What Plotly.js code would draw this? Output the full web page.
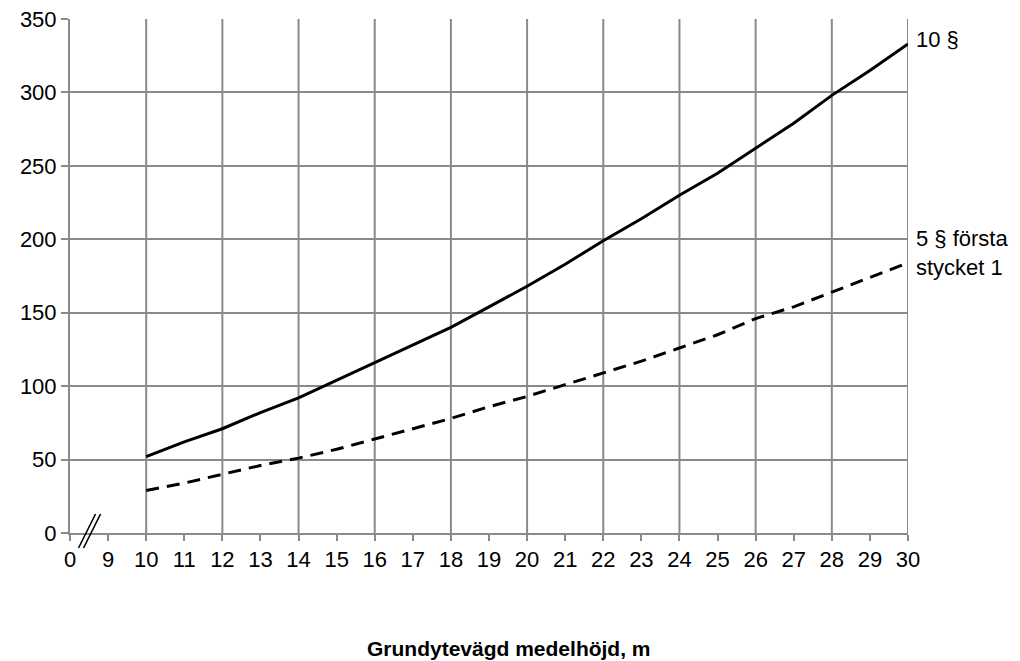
<!DOCTYPE html>
<html>
<head>
<meta charset="utf-8">
<script src="https://cdn.plot.ly/plotly-3.0.1.min.js"></script>
<style>html,body{margin:0;padding:0;background:#fff;}#chart{width:1020px;height:661px;}</style>
</head>
<body>
<div id="chart"></div>
<script>
// Height classes (m)
const heights = [10,11,12,13,14,15,16,17,18,19,20,21,22,23,24,25,26,27,28,29,30];
// Series "10 §"
const s10 = [52,62,71,82,92,104,116,128,140,154,168,183,199,214,230,245,262,279,298,315,333];
// Series "5 § första stycket 1"
const s5 = [29,34,40,46,51,57,64,71,78,86,93,101,109,117,126,135,146,154,164,174,184];
// Axis ticks (the first position stands for 0 after the axis break)
const xTickVals = [8,9,10,11,12,13,14,15,16,17,18,19,20,21,22,23,24,25,26,27,28,29,30];
const xTickText = ['0','9','10','11','12','13','14','15','16','17','18','19','20','21','22','23','24','25','26','27','28','29','30'];
const xGridVals = [10,12,14,16,18,20,22,24,26,28,30];
const yTickVals = [0,50,100,150,200,250,300,350];
const seriesNames = ['10 §', '5 § första<br>stycket 1'];

const gridColor = '#8a8a8a';
const font = {family: 'Liberation Sans, Arial, sans-serif', size: 22, color: '#000'};

const traces = [
  {x: heights, y: s10, type: 'scatter', mode: 'lines', name: '10 §',
   line: {color: '#000', width: 3}},
  {x: heights, y: s5, type: 'scatter', mode: 'lines', name: '5 § första stycket 1',
   line: {color: '#000', width: 3, dash: '13px,8px'}}
];

const shapes = xGridVals.map(v => ({
  type: 'line', xref: 'x', yref: 'paper', x0: v, x1: v, y0: 0, y1: 1,
  line: {color: gridColor, width: 2}, layer: 'below'
}));
// axis break marker
[-2.5, 2.5].forEach(off => {
  shapes.push({
    type: 'line', xref: 'x', yref: 'paper', xsizemode: 'pixel', ysizemode: 'pixel',
    xanchor: 8.5, yanchor: 0, x0: off - 8, x1: off + 9, y0: -15, y1: 19,
    line: {color: '#000', width: 1.6}, layer: 'above'
  });
});

const layout = {
  width: 1020, height: 661,
  margin: {l: 70, r: 112, t: 19, b: 128},
  paper_bgcolor: '#fff', plot_bgcolor: '#fff',
  showlegend: false,
  font: font,
  xaxis: {
    type: 'linear', range: [8, 30],
    tickmode: 'array', tickvals: xTickVals, ticktext: xTickText,
    showgrid: false, zeroline: false,
    showline: true, linecolor: gridColor, linewidth: 2,
    ticks: 'outside', ticklen: 6, tickwidth: 2, tickcolor: gridColor,
    tickfont: font
  },
  yaxis: {
    range: [0, 350], tickmode: 'array', tickvals: yTickVals,
    showgrid: true, gridcolor: gridColor, gridwidth: 2,
    zeroline: false, showline: true, linecolor: gridColor, linewidth: 2,
    ticks: 'outside', ticklen: 7, tickwidth: 2, tickcolor: gridColor,
    tickfont: font
  },
  shapes: shapes,
  annotations: [
    {x: 30, y: s10[s10.length - 1], xref: 'x', yref: 'y', text: seriesNames[0],
     showarrow: false, xanchor: 'left', yanchor: 'middle', xshift: 6, yshift: 4,
     font: font, align: 'left'},
    {x: 30, y: s5[s5.length - 1], xref: 'x', yref: 'y', text: seriesNames[1],
     showarrow: false, xanchor: 'left', yanchor: 'middle', xshift: 6, yshift: 10,
     font: font, align: 'left'},
    {x: 0.524, y: -0.224, xref: 'paper', yref: 'paper',
     text: '<b>Grundytevägd medelhöjd, m</b>', showarrow: false,
     xanchor: 'center', yanchor: 'middle',
     font: {family: 'Liberation Sans, Arial, sans-serif', size: 21, color: '#000'}}
  ]
};

Plotly.newPlot('chart', traces, layout, {displayModeBar: false, staticPlot: true});
</script>
</body>
</html>
